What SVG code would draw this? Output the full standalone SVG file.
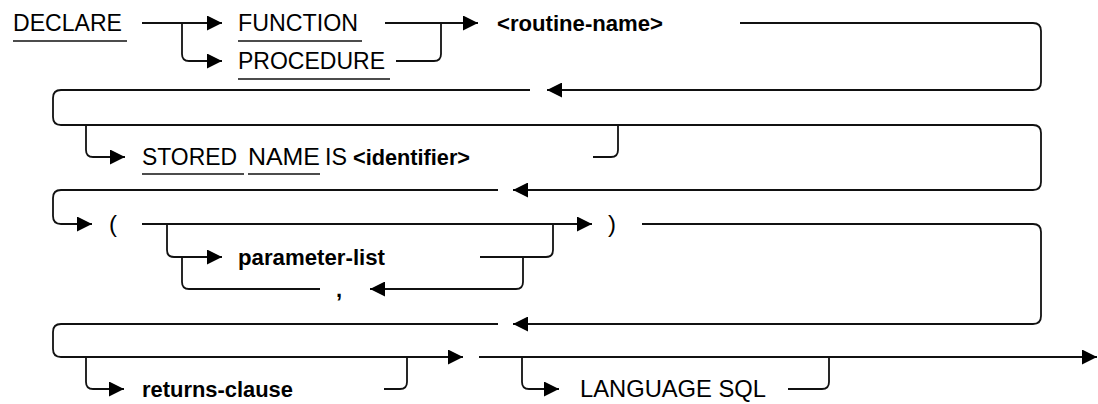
<svg xmlns="http://www.w3.org/2000/svg" width="1098" height="404" viewBox="0 0 1098 404">
<style>
.ln{fill:none;stroke:#111;stroke-width:1.8}
.ul{fill:none;stroke:#111;stroke-width:1.6}
.kw{font-family:"Liberation Sans",Arial,sans-serif;font-size:24px;fill:#000}
.nt{font-family:"Liberation Sans",Arial,sans-serif;font-size:22px;font-weight:bold;fill:#000}
</style>
<defs>
<marker id="ah" viewBox="0 0 15 15" refX="15" refY="7.5" markerWidth="15" markerHeight="15" markerUnits="userSpaceOnUse" orient="auto">
<path d="M0,0 L15,7.5 L0,15 z" fill="#000"/>
</marker>
</defs>
<rect width="1098" height="404" fill="#fff"/>
<g id="connectors">
<path class="ln" d="M142,23 H222" marker-end="url(#ah)"/>
<path class="ln" d="M182,23 V54 Q182,61 189,61 H222" marker-end="url(#ah)"/>
<path class="ln" d="M385,23 H478" marker-end="url(#ah)"/>
<path class="ln" d="M396,61 H434 Q441,61 441,54 V23"/>
<path class="ln" d="M740,23 H1033 Q1041,23 1041,31 V82 Q1041,90 1033,90 H547" marker-end="url(#ah)"/>
<path class="ln" d="M530,90 H61 Q53,90 53,98 V117 Q53,125 61,125 H1033 Q1041,125 1041,133 V182 Q1041,190 1033,190 H513" marker-end="url(#ah)"/>
<path class="ln" d="M86,125 V150 Q86,157 93,157 H125" marker-end="url(#ah)"/>
<path class="ln" d="M593,157 H611 Q618,157 618,150 V125"/>
<path class="ln" d="M498,190 H61 Q53,190 53,198 V216 Q53,224 61,224 H92" marker-end="url(#ah)"/>
<path class="ln" d="M142,224 H592" marker-end="url(#ah)"/>
<path class="ln" d="M167,224 V250 Q167,257 174,257 H222" marker-end="url(#ah)"/>
<path class="ln" d="M480,257 H546 Q553,257 553,250 V224"/>
<path class="ln" d="M523,257 V282 Q523,289 516,289 H370" marker-end="url(#ah)"/>
<path class="ln" d="M320,289 H189 Q182,289 182,282 V257"/>
<path class="ln" d="M642,224 H1033 Q1041,224 1041,232 V316 Q1041,324 1033,324 H513" marker-end="url(#ah)"/>
<path class="ln" d="M498,324 H61 Q53,324 53,332 V349 Q53,357 61,357 H463" marker-end="url(#ah)"/>
<path class="ln" d="M479,357 H1097" marker-end="url(#ah)"/>
<path class="ln" d="M86,357 V382 Q86,389 93,389 H124" marker-end="url(#ah)"/>
<path class="ln" d="M384,389 H400 Q407,389 407,382 V357"/>
<path class="ln" d="M522,357 V382 Q522,389 529,389 H559" marker-end="url(#ah)"/>
<path class="ln" d="M788,389 H822 Q829,389 829,382 V357"/>
</g>
<g id="declare"><text class="kw" x="13" y="31" textLength="109" lengthAdjust="spacingAndGlyphs">DECLARE</text><path class="ul" d="M13,41 H127"/></g>
<g id="function"><text class="kw" x="238" y="31" textLength="120" lengthAdjust="spacingAndGlyphs">FUNCTION</text><path class="ul" d="M238,41 H362"/></g>
<g id="procedure"><text class="kw" x="238" y="69" textLength="147" lengthAdjust="spacingAndGlyphs">PROCEDURE</text><path class="ul" d="M238,79 H390"/></g>
<g id="routine-name"><text class="nt" x="497" y="31" textLength="166" lengthAdjust="spacingAndGlyphs">&lt;routine-name&gt;</text></g>
<g id="stored-name"><text class="kw" x="142" y="165" textLength="95" lengthAdjust="spacingAndGlyphs">STORED</text><path class="ul" d="M142,174 H244"/><text class="kw" x="248" y="165" textLength="72" lengthAdjust="spacingAndGlyphs">NAME</text><path class="ul" d="M248,174 H320"/><text class="kw" x="325" y="165" textLength="22" lengthAdjust="spacingAndGlyphs">IS</text><text class="nt" x="353" y="165" textLength="117" lengthAdjust="spacingAndGlyphs">&lt;identifier&gt;</text></g>
<g id="lparen"><text class="kw" x="109" y="232">(</text></g>
<g id="rparen"><text class="kw" x="608" y="232">)</text></g>
<g id="parameter-list"><text class="nt" x="238" y="265" textLength="147" lengthAdjust="spacingAndGlyphs">parameter-list</text></g>
<g id="comma"><text class="nt" x="339" y="297" text-anchor="middle">,</text></g>
<g id="returns-clause"><text class="nt" x="142" y="397" textLength="151" lengthAdjust="spacingAndGlyphs">returns-clause</text></g>
<g id="language-sql"><text class="kw" x="580" y="397" textLength="186" lengthAdjust="spacingAndGlyphs">LANGUAGE SQL</text></g>
</svg>
